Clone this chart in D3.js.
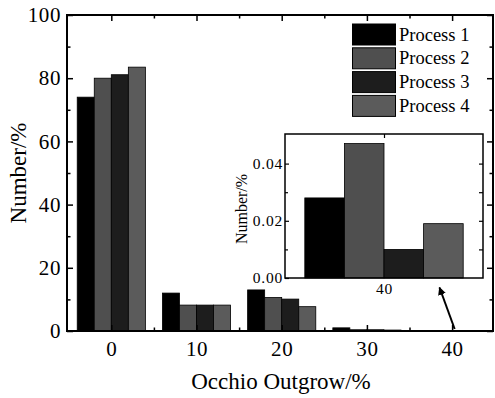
<!DOCTYPE html>
<html><head><meta charset="utf-8">
<script src="https://cdn.jsdelivr.net/npm/d3@7"></script>
<style>body{margin:0;background:#fff}svg{display:block}</style>
</head><body>
<svg id="c" width="495" height="398" font-family="Liberation Serif, Times New Roman, serif"></svg>
<script>
const categories = [0, 10, 20, 30, 40];
const seriesNames = ["Process 1", "Process 2", "Process 3", "Process 4"];
const process1 = [74.0, 12.0, 13.0, 1.0, 0.028];
const process2 = [80.0, 8.2, 10.6, 0.4, 0.047];
const process3 = [81.1, 8.2, 10.1, 0.4, 0.010];
const process4 = [83.5, 8.2, 7.7, 0.3, 0.019];
const seriesColors = ["#000000", "#4f4f4f", "#1d1d1d", "#5b5b5b"];
const yTicks = [0, 20, 40, 60, 80, 100];
const insetCategory = 40;
const insetTicks = [0.00, 0.02, 0.04];

(function () {
const FONT = "Liberation Serif";
const series = [process1, process2, process3, process4];
const svg = d3.select("#c");
const L = 67, R = 493, T = 15, B = 331;
const x = d3.scaleLinear().domain([-5.2, 44.8]).range([L, R]);
const y = d3.scaleLinear().domain([0, 100]).range([B, T]);
const sub = d3.scaleBand().domain(d3.range(4)).range([-4, 4]);

// bars
const g = svg.append("g");
categories.forEach((c, ci) => {
  series.forEach((s, si) => {
    const x0 = x(c + sub(si)), x1 = x(c + sub(si) + sub.bandwidth());
    g.append("rect").attr("x", x0).attr("y", y(s[ci])).attr("width", x1 - x0)
      .attr("height", Math.max(0, B - y(s[ci]))).attr("fill", seriesColors[si])
      .attr("stroke", "#000").attr("stroke-width", 0.8);
  });
});

// axes
const ax = svg.append("g");
ax.append("g").attr("transform", `translate(0,${B})`)
  .call(d3.axisBottom(x).tickValues(categories).tickSize(-6).tickPadding(10).tickFormat(d3.format("d")));
ax.append("g").attr("transform", `translate(0,${B})`)
  .call(d3.axisBottom(x).tickValues([5,15,25,35]).tickSize(-3.5).tickFormat(""));
ax.append("g").attr("transform", `translate(0,${T})`)
  .call(d3.axisTop(x).tickValues(categories).tickSize(-6).tickFormat(""));
ax.append("g").attr("transform", `translate(0,${T})`)
  .call(d3.axisTop(x).tickValues([5,15,25,35]).tickSize(-3.5).tickFormat(""));
ax.append("g").attr("transform", `translate(${L},0)`)
  .call(d3.axisLeft(y).tickValues(yTicks).tickSize(-6).tickPadding(6));
ax.append("g").attr("transform", `translate(${L},0)`)
  .call(d3.axisLeft(y).tickValues([10,30,50,70,90]).tickSize(-3.5).tickFormat(""));
ax.append("g").attr("transform", `translate(${R},0)`)
  .call(d3.axisRight(y).tickValues(yTicks).tickSize(-6).tickFormat(""));
ax.append("g").attr("transform", `translate(${R},0)`)
  .call(d3.axisRight(y).tickValues([10,30,50,70,90]).tickSize(-3.5).tickFormat(""));
ax.selectAll(".domain").remove();
ax.selectAll(".tick line").attr("stroke", "#000").attr("stroke-width", 1.5);
ax.selectAll("g").attr("font-family", FONT);
ax.selectAll(".tick text").attr("font-size", 21).attr("letter-spacing", 0.6).attr("fill", "#000").attr("font-family", FONT);
svg.append("rect").attr("x", L).attr("y", T).attr("width", R - L).attr("height", B - T)
  .attr("fill", "none").attr("stroke", "#000").attr("stroke-width", 2);

// titles
svg.append("text").attr("x", (L + R) / 2 + 1).attr("y", 389).attr("text-anchor", "middle")
  .attr("font-family", FONT).attr("font-size", 23).text("Occhio Outgrow/%");
svg.append("text").attr("transform", `translate(25.5,${(T + B) / 2}) rotate(-90)`)
  .attr("text-anchor", "middle").attr("font-family", FONT).attr("font-size", 23).text("Number/%");

// legend
const lg = svg.append("g");
seriesNames.forEach((n, i) => {
  const yy = 24 + i * 23.8;
  lg.append("rect").attr("x", 352.5).attr("y", yy).attr("width", 43).attr("height", 21)
    .attr("fill", seriesColors[i]).attr("stroke", "#000").attr("stroke-width", 1);
  lg.append("text").attr("x", 399).attr("y", yy + 16.5).attr("font-family", FONT).attr("font-size", 18.5)
    .text(n);
});

// inset
const iL = 285, iR = 483, iT = 134, iB = 278;
const ix = d3.scaleBand().domain([insetCategory]).range([iL, iR]).paddingOuter(0.125);
const iy = d3.scaleLinear().domain([0, 0.05]).range([iB, iT + 1]);
const ci = categories.indexOf(insetCategory);
const isub = d3.scaleBand().domain(d3.range(4)).range([ix(insetCategory), ix(insetCategory) + ix.bandwidth()]);
const ig = svg.append("g");
ig.append("rect").attr("x", iL).attr("y", iT).attr("width", iR - iL).attr("height", iB - iT).attr("fill", "#fff");
series.forEach((s, si) => {
  ig.append("rect").attr("x", isub(si)).attr("y", iy(s[ci])).attr("width", isub.bandwidth())
    .attr("height", iB - iy(s[ci])).attr("fill", seriesColors[si]).attr("stroke", "#000").attr("stroke-width", 0.8);
});
const pc = d3.scalePoint().domain([insetCategory]).range([ix(insetCategory), ix(insetCategory) + ix.bandwidth()]).padding(0.5);
const iax = ig.append("g");
iax.append("g").attr("transform", `translate(0,${iB})`)
  .call(d3.axisBottom(pc).tickSize(0).tickPadding(5));
iax.append("g").attr("transform", `translate(0,${iT})`)
  .call(d3.axisTop(pc).tickSize(-4).tickFormat(""));
iax.append("g").attr("transform", `translate(${iL},0)`)
  .call(d3.axisLeft(iy).tickValues(insetTicks).tickSize(-4).tickPadding(2).tickFormat(d3.format(".2f")));
iax.append("g").attr("transform", `translate(${iL},0)`)
  .call(d3.axisLeft(iy).tickValues([0.01, 0.03]).tickSize(-3).tickFormat(""));
iax.append("g").attr("transform", `translate(${iR},0)`)
  .call(d3.axisRight(iy).tickValues([0.01,0.02,0.03,0.04]).tickSize(-4).tickFormat(""));
iax.selectAll(".domain").remove();
iax.selectAll(".tick line").attr("stroke", "#000").attr("stroke-width", 1.2);
iax.selectAll("g").attr("font-family", FONT);
iax.selectAll(".tick text").attr("font-size", 15.5).attr("letter-spacing", 0.8).attr("fill", "#000").attr("font-family", FONT);
ig.append("rect").attr("x", iL).attr("y", iT).attr("width", iR - iL).attr("height", iB - iT)
  .attr("fill", "none").attr("stroke", "#000").attr("stroke-width", 1.5);
ig.append("text").attr("transform", `translate(247,${(iT + iB) / 2 + 3}) rotate(-90)`)
  .attr("text-anchor", "middle").attr("font-family", FONT).attr("font-size", 16).text("Number/%");

// arrow
svg.append("defs").append("marker").attr("id", "ah").attr("viewBox", "0 0 10 10")
  .attr("refX", 9).attr("refY", 5).attr("markerWidth", 4).attr("markerHeight", 4).attr("orient", "auto")
  .append("path").attr("d", "M0,0L10,5L0,10z").attr("fill", "#000");
svg.append("line").attr("x1", x(40.3)).attr("y1", 329).attr("x2", 439.5).attr("y2", 287.5)
  .attr("stroke", "#000").attr("stroke-width", 2).attr("marker-end", "url(#ah)");
})();
</script>
</body></html>
